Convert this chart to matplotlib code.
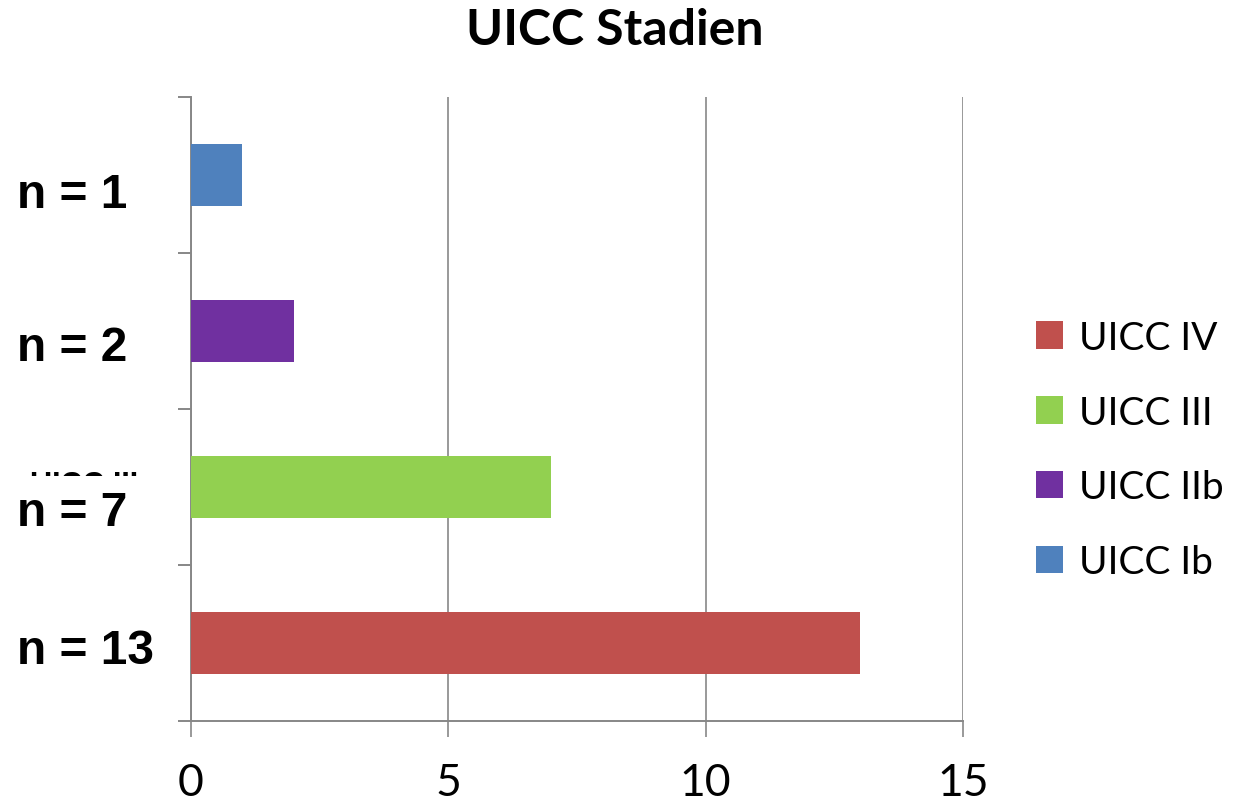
import matplotlib
matplotlib.use("Agg")
import matplotlib.pyplot as plt
from matplotlib.transforms import Bbox

# counts per UICC stage (bottom to top)
stages = ["UICC IV", "UICC III", "UICC IIb", "UICC Ib"]
counts = [13, 7, 2, 1]
colors = ["#C0504D", "#92D050", "#7030A0", "#4F81BD"]
count_labels = ["n = 13", "n = 7", "n = 2", "n = 1"]
label_y_px = [652, 513, 349, 195]

W, H = 1235, 804
fig = plt.figure(figsize=(W / 100, H / 100), dpi=100)
ax = fig.add_axes([191 / W, 1 - 722 / H, (963 - 191) / W, (722 - 98) / H])

grey = "#878787"
for i, (st, c, col) in enumerate(zip(stages, counts, colors)):
    ax.barh(i, c, height=0.4, color=col, label=st, zorder=3)

ax.set_xlim(0, 15)
ax.set_ylim(-0.5, 3.5)
ax.set_xticks([0, 5, 10, 15])
ax.set_yticks([-0.5, 0.5, 1.5, 2.5, 3.5])
ax.set_yticklabels([])
ax.grid(axis="x", color=grey, linewidth=1.2, zorder=0)
for s in ["top", "right"]:
    ax.spines[s].set_visible(False)
for s in ["left", "bottom"]:
    ax.spines[s].set_color(grey)
    ax.spines[s].set_linewidth(1.4)
ax.tick_params(axis="x", length=11.5, width=1.2, color=grey, pad=18,
               labelsize=32, labelfontfamily="Lato")
ax.tick_params(axis="y", length=9.5, width=1.4, color=grey)

fig.text(615 / W, 1 - 45 / H, "UICC Stadien", ha="center", va="baseline",
         fontsize=36, fontweight="bold", family="Lato")

for txt, ypx in zip(count_labels, label_y_px):
    fig.text(17 / W, 1 - ypx / H, txt, ha="left", va="center",
             fontsize=34.5, fontweight="bold", family="Liberation Sans")

# leftover text fragment peeking out above the "n = 7" label
ghost = fig.text(30 / W, 1 - 471 / H, "UICC III", ha="left", va="top",
                 fontsize=22, fontweight="bold", family="Liberation Sans")
ghost.set_clip_box(Bbox([[0, H - 477], [W, H - 470]]))
ghost.set_clip_on(True)

handles, labels = ax.get_legend_handles_labels()
fig.legend(handles, labels, loc="center left", bbox_to_anchor=(1036 / W, 1 - 451 / H),
           frameon=False, prop={"family": "Lato", "size": 28},
           handlelength=0.7, handleheight=0.7, handletextpad=0.4,
           labelspacing=1.0, borderpad=0, borderaxespad=0)

fig.savefig("out.png", dpi=100)
